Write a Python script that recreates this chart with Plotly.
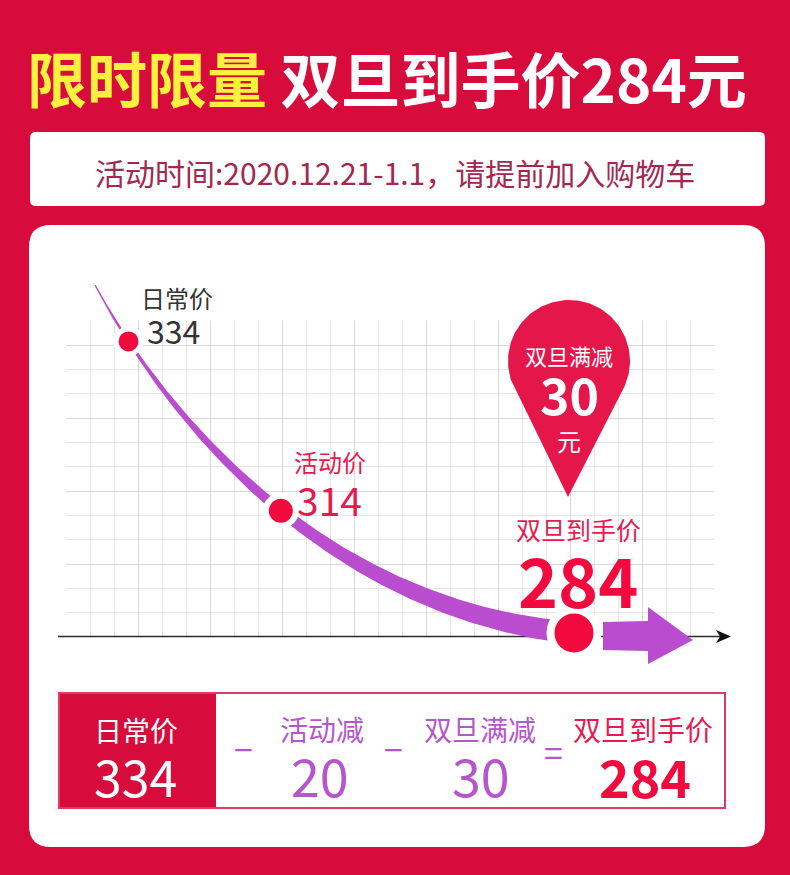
import numpy as np
import plotly.graph_objects as go

# values
stage_names = ["日常价", "活动价", "双旦到手价"]
stage_prices = [334, 314, 284]
cut_names = ["活动减", "双旦满减"]
cut_values = [20, 30]
headline_tag = "限时限量"
event_dates = "2020.12.21-1.1"

W, H = 790, 875
FONT = "Noto Sans CJK SC"
RED = "#d80c3c"
PINK = "#e8194f"
HOT = "#f20a3f"
PURPLE = "#b556cd"
CURVE = "#ba4ccf"


def px(x):
    return x / W


def py(y):
    return 1 - y / H


def round_rect(x0, y0, x1, y1, r):
    # rounded rectangle as an svg path in paper coordinates
    pts = [("M", x0 + r, y0), ("L", x1 - r, y0), ("Q", x1, y0, x1, y0 + r),
           ("L", x1, y1 - r), ("Q", x1, y1, x1 - r, y1), ("L", x0 + r, y1),
           ("Q", x0, y1, x0, y1 - r), ("L", x0, y0 + r), ("Q", x0, y0, x0 + r, y0)]
    out = []
    for p in pts:
        cmd, vals = p[0], p[1:]
        coords = []
        for i in range(0, len(vals), 2):
            coords.append(f"{px(vals[i]):.5f},{py(vals[i + 1]):.5f}")
        out.append(cmd + " " + " ".join(coords))
    return " ".join(out) + " Z"


def bezier(P, t):
    t = np.asarray(t)[:, None]
    mt = 1 - t
    pts = mt**3 * P[0] + 3 * mt**2 * t * P[1] + 3 * mt * t**2 * P[2] + t**3 * P[3]
    d = 3 * mt**2 * (P[1] - P[0]) + 6 * mt * t * (P[2] - P[1]) + 3 * t**2 * (P[3] - P[2])
    return pts, d


fig = go.Figure()

# empty trace so the grid subplot gets drawn
fig.add_trace(go.Scatter(x=[0], y=[0], mode="markers", marker=dict(opacity=0),
                         xaxis="x", yaxis="y"))

# axis line with arrow head (drawn first so the purple arrow sits on top)
fig.add_trace(go.Scatter(x=[58, 722], y=[636.5, 636.5], mode="lines",
                         line=dict(color="#2b2b2b", width=1.6),
                         xaxis="x2", yaxis="y2"))
fig.add_trace(go.Scatter(x=[716, 731, 716, 720, 716], y=[630, 636.5, 643, 636.5, 630],
                         mode="lines", fill="toself", fillcolor="#111",
                         line=dict(width=0, color="#111"), xaxis="x2", yaxis="y2"))

# tapered price curve
P = np.array([[95, 285], [170, 425], [330, 610], [574, 633]], float)
tt = np.linspace(0, 1, 240)
pts, d = bezier(P, tt)
nrm = np.column_stack([-d[:, 1], d[:, 0]])
nrm /= np.linalg.norm(nrm, axis=1)[:, None]
half = (1.5 + 21 * tt**1.3)[:, None] / 2
left = pts + nrm * half
right = pts - nrm * half
poly = np.vstack([left, right[::-1], left[:1]])
fig.add_trace(go.Scatter(x=poly[:, 0], y=poly[:, 1], mode="lines", fill="toself",
                         fillcolor=CURVE, line=dict(width=0, color=CURVE),
                         xaxis="x2", yaxis="y2"))

# arrow out of the last point
ax_ = [603, 648, 648, 693, 648, 648, 603, 603]
ay_ = [622, 621, 607, 640, 664, 651, 650, 622]
fig.add_trace(go.Scatter(x=ax_, y=ay_, mode="lines", fill="toself", fillcolor=CURVE,
                         line=dict(width=0, color=CURVE), xaxis="x2", yaxis="y2"))

# red dots on the curve, one per price stage
dot_t = [0.13, 0.52, 1.0]
dot_xy, _ = bezier(P, dot_t)
fig.add_trace(go.Scatter(x=dot_xy[:, 0], y=dot_xy[:, 1], mode="markers",
                         marker=dict(size=[25, 30, 47], color=HOT, opacity=1,
                                     line=dict(color="white", width=[5, 6, 8])),
                         xaxis="x2", yaxis="y2"))

# map pin for the holiday discount
c = np.array([569.0, 361.0])
r = 61.0
tip = np.array([568.0, 497.0])
v = tip - c
th = np.arctan2(v[1], v[0])
beta = np.arccos(r / np.linalg.norm(v))
ang = np.linspace(th + beta, th + 2 * np.pi - beta, 120)
pin_x = np.concatenate([[tip[0]], c[0] + r * np.cos(ang), [tip[0]]])
pin_y = np.concatenate([[tip[1]], c[1] + r * np.sin(ang), [tip[1]]])
fig.add_trace(go.Scatter(x=pin_x, y=pin_y, mode="lines", fill="toself", fillcolor="#e5164a",
                         line=dict(width=0, color="#e5164a"), xaxis="x2", yaxis="y2"))

# panels and the bottom equation box
shapes = [
    dict(type="path", path=round_rect(30, 132, 765, 206, 6), fillcolor="white",
         line=dict(width=0), xref="paper", yref="paper", layer="below"),
    dict(type="path", path=round_rect(29, 225, 765, 847, 22), fillcolor="white",
         line=dict(width=0), xref="paper", yref="paper", layer="below"),
    dict(type="rect", x0=px(59), x1=px(216), y0=py(808), y1=py(693), fillcolor=RED,
         line=dict(width=0), xref="paper", yref="paper", layer="below"),
    dict(type="rect", x0=px(59), x1=px(725), y0=py(808), y1=py(693),
         fillcolor="rgba(0,0,0,0)", line=dict(width=2, color="#e03a63"),
         xref="paper", yref="paper", layer="below"),
]

ann = []


def txt(x, y, s, size, color, weight="normal"):
    ann.append(dict(x=x, y=y, xref="x2", yref="y2", text=s, showarrow=False,
                    xanchor="center", yanchor="middle",
                    font=dict(family=FONT, size=size, color=color, weight=weight)))


final = stage_prices[-1]
txt(387, 76, f"<span style='color:#fff23f'>{headline_tag}</span> 双旦到手价{final}元",
    60, "white", "bold")
txt(395, 172, f"活动时间:{event_dates}，请提前加入购物车", 30, "#a2284f")

# chart labels
txt(177, 297, stage_names[0], 24, "#333")
txt(173, 330, str(stage_prices[0]), 32, "#333")
txt(330, 461, stage_names[1], 24, PINK)
txt(329, 499, str(stage_prices[1]), 39, PINK)
txt(578, 529, stage_names[2], 25, PINK)
txt(578, 578, str(stage_prices[2]), 68, HOT, "bold")

# pin text
txt(569, 355, cut_names[1], 22, "white")
txt(569, 393, str(cut_values[1]), 50, "white", "bold")
txt(569, 440, "元", 24, "white")

# equation box
txt(136, 730, stage_names[0], 28, "white")
txt(135, 775, str(stage_prices[0]), 50, "white")
txt(243, 748, "−", 34, PURPLE)
txt(322, 729, cut_names[0], 28, PURPLE)
txt(320, 774, str(cut_values[0]), 52, PURPLE)
txt(393, 748, "−", 34, PURPLE)
txt(480, 729, cut_names[1], 28, PURPLE)
txt(481, 774, str(cut_values[1]), 52, PURPLE)
txt(553, 751, "=", 34, PURPLE)
txt(643, 729, stage_names[2], 28, PINK)
txt(645, 775, str(stage_prices[2]), 52, HOT, "bold")

fig.update_layout(
    width=W, height=H,
    margin=dict(l=0, r=0, t=0, b=0),
    paper_bgcolor=RED,
    plot_bgcolor="rgba(0,0,0,0)",
    showlegend=False,
    hovermode=False,
    shapes=shapes,
    annotations=ann,
    # background grid of the chart
    xaxis=dict(domain=[px(66), px(714)], range=[0, 27], dtick=3, tick0=0,
               showgrid=True, gridcolor="#d9d9d9", gridwidth=1.4,
               minor=dict(dtick=1, showgrid=True, gridcolor="#e6e6e6", gridwidth=1),
               showticklabels=False, zeroline=False, ticks="", fixedrange=True),
    yaxis=dict(domain=[py(637), py(321)], range=[0, 13], dtick=3, tick0=0,
               showgrid=True, gridcolor="#d9d9d9", gridwidth=1.4,
               minor=dict(dtick=1, showgrid=True, gridcolor="#e6e6e6", gridwidth=1),
               showticklabels=False, zeroline=False, ticks="", fixedrange=True),
    # pixel canvas for marks and labels
    xaxis2=dict(domain=[0, 1], range=[0, W], anchor="y2", visible=False, fixedrange=True),
    yaxis2=dict(domain=[0, 1], range=[H, 0], anchor="x2", visible=False, fixedrange=True),
)

fig.write_html("out.html", config={"displayModeBar": False},
               post_script="document.body.style.margin='0';")
